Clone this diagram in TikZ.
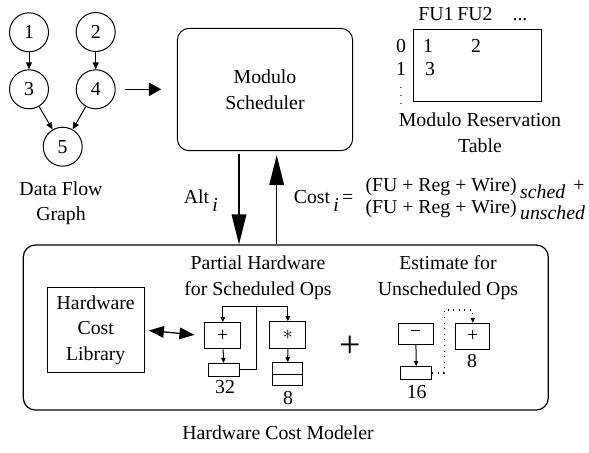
\documentclass[tikz,border=0pt]{standalone}
\usepackage{fontspec}
\setmainfont{Liberation Serif}
\usetikzlibrary{arrows.meta,calc}
\begin{document}
\begin{tikzpicture}[x=0.5pt,y=-0.5pt,
  font=\fontsize{9.9}{12.8}\selectfont,
  line width=0.5pt,
  circ/.style={draw, circle, minimum size=19.5pt, inner sep=0pt},
  dfgarrow/.style={-{Triangle[length=3.5pt,width=3pt]}},
  hwarrow/.style={-{Triangle[length=2.5pt,width=2.2pt]}},
  bigarrow/.style={line width=0.65pt, -{Triangle[length=15pt,width=7.3pt]}},
  midarrow/.style={line width=0.65pt, -{Triangle[length=6.2pt,width=6.7pt]}},
  dblarrow/.style={line width=0.65pt, {Triangle[length=7.5pt,width=5.8pt]}-{Triangle[length=7.5pt,width=5.8pt]}},
  hwbox/.style={draw, rectangle, inner sep=0pt},
  txt/.style={inner sep=0pt, align=center},
  basetxt/.style={inner sep=0pt, anchor=base},
  dotline/.style={dash pattern=on 0.5pt off 2.3pt, line width=0.6pt},
]
\useasboundingbox (0,0) rectangle (589,452);

% Data flow graph
\node[circ] (c1) at (29,32.3) {1};
\node[circ] (c2) at (95.7,32) {2};
\node[circ] (c3) at (29,89.3) {3};
\node[circ] (c4) at (95.7,89.3) {4};
\node[circ] (c5) at (62.7,146.7) {5};
\draw[dfgarrow] (c1) -- (c3);
\draw[dfgarrow] (c2) -- (c4);
\draw[dfgarrow] (c3) -- (c5);
\draw[dfgarrow] (c4) -- (c5);
\node[txt] (dfgl) at (61,203.3) {Data Flow\\Graph};

% Modulo scheduler
\node[draw, rectangle, rounded corners=6pt, minimum width=87.7pt, minimum height=61.2pt, inner sep=0pt, align=center] (ms) at (265,89.5) {Modulo\\Scheduler};
\draw[midarrow, shorten <=4.5pt, shorten >=7.8pt] (c4) -- (c4 -| ms.west);

% Modulo reservation table
\node[draw, rectangle, minimum width=64.2pt, minimum height=36.2pt, inner sep=0pt] (mrt) at (477.5,65.5) {};
\node[basetxt] (fu1) at (436,20) {FU1};
\node[basetxt] (fu2) at (475,20) {FU2};
\node[basetxt] (fud) at (520,20) {...};
\node[basetxt] (r0) at (401,52) {0};
\node[basetxt] (r1) at (401,75.5) {1};
\node[txt] (rd) at (401,90) {\fontsize{5.5}{5.5}\selectfont$\vdots$};
\node[basetxt] (e1) at (428,52) {1};
\node[basetxt] (e2) at (476,52) {2};
\node[basetxt] (e3) at (430,75.5) {3};
\node[txt] (mrtl) at (480,132.5) {Modulo Reservation\\Table};

% Hardware cost modeler
\node[draw, rectangle, rounded corners=6pt, minimum width=262.5pt, minimum height=82.5pt, inner sep=0pt, line width=0.6pt] (hcm) at (285.8,327.5) {};
\node[txt] (hcml) at (278,433) {Hardware Cost Modeler};

% Alt / Cost arrows
\coordinate (altS) at (239,154);
\coordinate (costE) at (276.7,155);
\draw[bigarrow] (altS) -- (hcm.north -| altS);
\draw[bigarrow] (hcm.north -| costE) -- (costE);
\node[anchor=base west, inner sep=0pt] (altl) at (183.3,203.3) {Alt\,\raisebox{-4.2pt}{\itshape i}};
\node[anchor=base west, inner sep=0pt] (costl) at (293.3,203.3) {Cost\,\raisebox{-4.2pt}{\itshape i}\,=};
\node[anchor=base west, inner sep=0pt] (f1) at (365,191.7) {(FU + Reg + Wire)\,\raisebox{-3.3pt}{\itshape sched}\, +};
\node[anchor=base west, inner sep=0pt] (f2) at (365,213.3) {(FU + Reg + Wire)\,\raisebox{-3.3pt}{\itshape unsched}};

% Library
\node[hwbox, minimum width=48.3pt, minimum height=42.7pt, align=center] (hcl) at (95.7,330) {Hardware\\Cost\\Library};

% Partial hardware
\node[txt] (phl) at (258,277.5) {Partial Hardware\\for Scheduled Ops};
\node[hwbox, minimum width=17.85pt, minimum height=13.15pt] (P) at (222.8,335.8) {+};
\node[hwbox, minimum width=15.35pt, minimum height=6.35pt] (R1) at (223.7,369.7) {};
\node[hwbox, minimum width=17.85pt, minimum height=13.3pt] (S) at (287.8,335) {$\ast$};
\node[hwbox, minimum width=15pt, minimum height=11.3pt] (R2) at (287.7,374) {};
\draw (R2.west) -- (R2.east);
\node[txt] (l32) at (225,387) {32};
\node[txt] (l8a) at (288,398.3) {8};
\draw[hwarrow] (P) -- (R1);
\draw[hwarrow] (S) -- (R2);
\coordinate (J) at (256,306.7);
\draw (R1.east) -| (J);
\draw[hwarrow] (J) -| (P.north);
\draw[hwarrow] (J) -| (S.north);

\draw[dblarrow, shorten <=2.2pt, shorten >=5pt] (hcl.east) -- (P.west);

% Big plus
\node[txt, font=\fontsize{19}{19}\selectfont] (bigplus) at (350.7,346.7) {+};

% Estimate
\node[txt] (estl) at (448,277.5) {Estimate for\\Unscheduled Ops};
\node[hwbox, minimum width=17.5pt, minimum height=10.35pt] (M) at (415.8,333.7) {\char"2212};
\node[hwbox, minimum width=15.35pt, minimum height=6.3pt] (R3) at (416.3,373) {};
\node[hwbox, minimum width=17.15pt, minimum height=13pt] (P2) at (472.8,336.3) {+};
\draw[hwarrow] (M) -- (R3);
\coordinate (D1) at (444.3,310);
\draw[dotline] (R3.east) -| (D1) -| ($(P2.north)+(0,-4)$);
\draw[hwarrow] ($(P2.north)+(0,-5)$) -- (P2.north);
\node[txt] (l16) at (416.7,391.7) {16};
\node[txt] (l8b) at (472,361) {8};
\end{tikzpicture}
\end{document}
